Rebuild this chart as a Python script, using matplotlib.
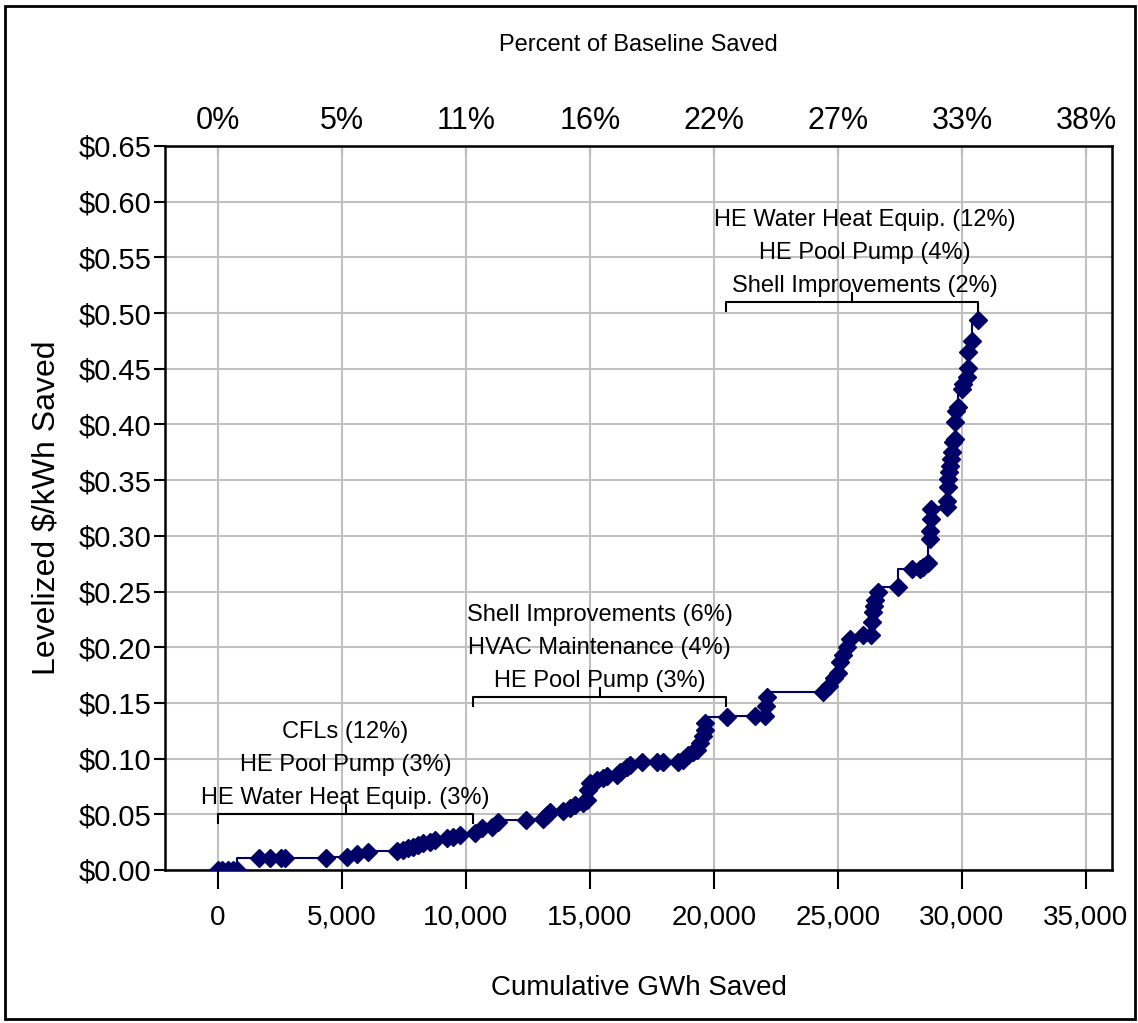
import matplotlib
matplotlib.use("Agg")
import matplotlib.pyplot as plt
from matplotlib.patches import Rectangle

plt.rcParams['font.family'] = ['Liberation Sans', 'DejaVu Sans']

# cumulative savings (GWh) and levelized cost ($/kWh) of each measure
gwh = [0, 150, 400, 600, 770,
       1650, 2100, 2550, 2700, 4350,
       5200, 5600, 6050,
       7220, 7470, 7670, 7880, 8080, 8280, 8550, 8750, 9230, 9480, 9760,
       10360, 10650, 11050, 11290, 12420,
       13100, 13260, 13390, 13900, 14190, 14400, 14720, 14870, 14920, 15000,
       15280, 15520, 15680, 16080, 16200, 16490, 16610, 17100, 17700, 17950,
       18550, 18750, 18950, 19150, 19300, 19440, 19560, 19620, 19640,
       20520, 21650, 22050, 22100, 22150,
       24400, 24650, 24850, 25000, 25100, 25200, 25350, 25480,
       26000, 26350, 26380, 26400, 26440, 26480, 26600,
       27420, 27980, 28300, 28430, 28630,
       28700, 28720, 28740, 28760,
       29400, 29410, 29430, 29450, 29480, 29520, 29560, 29600, 29640, 29700,
       29720, 29760, 29840, 30000, 30040, 30200, 30240, 30260, 30400, 30650]
cost = [0.0, 0.0, 0.0, 0.0, 0.0,
        0.011, 0.011, 0.011, 0.011, 0.011,
        0.012, 0.014, 0.016,
        0.017, 0.018, 0.0195, 0.021, 0.0225, 0.024, 0.0255, 0.027, 0.0285, 0.030, 0.0315,
        0.033, 0.038, 0.039, 0.043, 0.045,
        0.046, 0.049, 0.052, 0.053, 0.056, 0.058, 0.060, 0.063, 0.072, 0.078,
        0.081, 0.083, 0.084, 0.085, 0.088, 0.092, 0.094, 0.097, 0.097, 0.097,
        0.097, 0.099, 0.103, 0.106, 0.108, 0.114, 0.120, 0.126, 0.132,
        0.137, 0.138, 0.138, 0.147, 0.155,
        0.160, 0.165, 0.172, 0.177, 0.187, 0.193, 0.200, 0.207,
        0.211, 0.211, 0.223, 0.232, 0.237, 0.242, 0.250,
        0.254, 0.270, 0.270, 0.272, 0.276,
        0.297, 0.304, 0.315, 0.324,
        0.326, 0.331, 0.344, 0.351, 0.357, 0.363, 0.369, 0.375, 0.384, 0.387,
        0.402, 0.412, 0.416, 0.432, 0.436, 0.443, 0.451, 0.465, 0.475, 0.494]

x_ticks = [0, 5000, 10000, 15000, 20000, 25000, 30000, 35000]
x_labels = ['0', '5,000', '10,000', '15,000', '20,000', '25,000', '30,000', '35,000']
pct_labels = ['0%', '5%', '11%', '16%', '22%', '27%', '33%', '38%']
y_ticks = [i * 0.05 for i in range(14)]
y_labels = ['$%.2f' % v for v in y_ticks]

# bracketed groups along the curve
group_start = [0, 10300, 20500]
group_end = [10300, 20500, 30650]
group_level = [0.05, 0.155, 0.51]
group_text_x = [5150, 15400, 26100]
group_lines = [['CFLs (12%)', 'HE Pool Pump (3%)', 'HE Water Heat Equip. (3%)'],
               ['Shell Improvements (6%)', 'HVAC Maintenance (4%)', 'HE Pool Pump (3%)'],
               ['HE Water Heat Equip. (12%)', 'HE Pool Pump (4%)', 'Shell Improvements (2%)']]

navy = '#000066'
fig = plt.figure(figsize=(11.38, 10.23), dpi=100)
ax = fig.add_axes([0.145, 0.1496, 0.8322, 0.7077])

ax.plot(gwh, cost, drawstyle='steps-pre', color=navy, lw=1.5,
        marker='D', ms=8.8, mfc=navy, mec=navy, zorder=3)

ax.set_xlim(-2130, 36050)
ax.set_ylim(0, 0.65)
ax.set_xticks(x_ticks)
ax.set_xticklabels(x_labels, fontsize=20)
ax.set_yticks(y_ticks)
ax.set_yticklabels(y_labels, fontsize=21)
ax.grid(True, color='#c0c0c0', lw=1.5)
ax.set_axisbelow(True)
ax.tick_params(axis='x', direction='out', length=14, width=1.5, pad=11)
ax.tick_params(axis='y', direction='out', length=8, width=1.5, pad=2)
for s in ax.spines.values():
    s.set_linewidth(1.8)
ax.set_xlabel('Cumulative GWh Saved', fontsize=20, labelpad=32)
ax.set_ylabel('Levelized $/kWh Saved', fontsize=23, labelpad=12)

top = ax.secondary_xaxis('top')
top.set_xticks(x_ticks)
top.set_xticklabels(pct_labels, fontsize=22)
top.tick_params(direction='in', length=7, width=1.5, pad=7)
top.set_xlabel('Percent of Baseline Saved', fontsize=17, labelpad=40)

tick_h = 0.008
for i in range(3):
    a, b, lev = group_start[i], group_end[i], group_level[i]
    mid = (a + b) / 2
    ax.plot([a, a, b, b], [lev - tick_h, lev, lev, lev - tick_h], color='black', lw=1.5, zorder=4)
    ax.plot([mid, mid], [lev, lev + tick_h], color='black', lw=1.5, zorder=4)
    for j, line in enumerate(reversed(group_lines[i])):
        ax.annotate(line, (group_text_x[i], lev), xytext=(0, 5 + 33 * j),
                    textcoords='offset pixels', ha='center', va='bottom', fontsize=17)

fig.patches.append(Rectangle((0.0045, 0.004), 0.993, 0.990, transform=fig.transFigure,
                             fill=False, ec='black', lw=2))

fig.savefig('out.png', dpi=100)
